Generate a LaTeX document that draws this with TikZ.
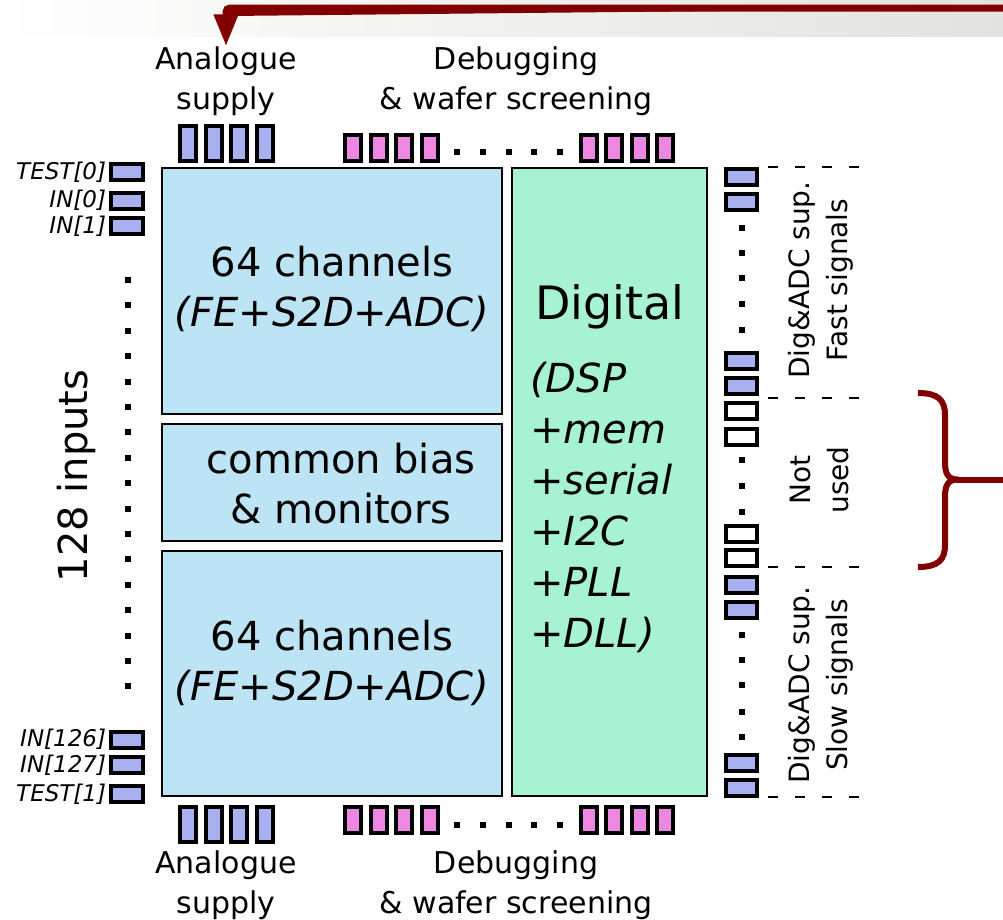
\documentclass[tikz,border=0pt]{standalone}
\usepackage{fontspec}
\setmainfont{DejaVu Sans}
\usepackage{xcolor}
\definecolor{chblue}{HTML}{BDE4F4}
\definecolor{dgreen}{HTML}{A6F2D1}
\definecolor{padblue}{HTML}{A9B0F0}
\definecolor{padpink}{HTML}{EC88E2}
\definecolor{darkred}{HTML}{800000}
\definecolor{band}{HTML}{E2E2DE}
\usetikzlibrary{arrows.meta,positioning,calc}
\newcommand\fs[2]{\fontsize{#1}{#2}\selectfont}
\tikzset{
  >={Triangle[width=23pt,length=32pt]},
  blk/.style={draw=black,line width=2.5pt,inner sep=0pt},
  chbox/.style={blk,fill=chblue},
  digbox/.style={blk,fill=dgreen},
  pad/.style={draw=black,line width=4pt,inner sep=0pt,fill=padblue},
  apad/.style={pad,minimum width=16pt,minimum height=35pt},
  dpad/.style={pad,fill=padpink,minimum width=16pt,minimum height=26pt},
  hpad/.style={pad,minimum width=31.5pt,minimum height=16pt},
  npad/.style={hpad,fill=white},
  pdot/.style={fill=black,inner sep=0pt,minimum size=6pt},
  lab/.style={font=\fs{30}{40},align=center,inner sep=0pt},
  big/.style={font=\fs{40}{50},align=center,inner sep=0pt},
  inlab/.style={font=\fs{23}{23}\itshape,anchor=east,inner sep=0pt},
  side/.style={font=\fs{28}{38},align=center,rotate=90,inner sep=0pt},
  sep/.style={draw=black,line width=1.8pt,dash pattern=on 10pt off 17pt},
  redarr/.style={->,draw=darkred,fill=darkred,line width=7pt,rounded corners=4pt},
  brc/.style={draw=darkred,line width=6pt},
}

\begin{document}
\begin{tikzpicture}[x=1pt,y=-1pt]
\useasboundingbox (0,0) rectangle (1003,919);
% slide header band
\shade[left color=white,right color=band] (0,0) rectangle (1003,36);
% chip blocks
\node[chbox,minimum width=340pt,minimum height=246pt] (chtop) at (332,291) {};
\node[chbox,minimum width=340pt,minimum height=117pt] (bias) at (332,482.5) {};
\node[chbox,minimum width=340pt,minimum height=245pt] (chbot) at (332,673.5) {};
\node[digbox,minimum width=195pt,minimum height=628pt] (dig) at (609.5,482) {};
\node[big] (chtopt) at (332,289) {64 channels\\\textit{(FE}+\textit{S2D}+\textit{ADC)}};
\node[big] (biast) at (341,484) {common bias\\\& monitors};
\node[big] (chbott) at (332,663) {64 channels\\\textit{(FE}+\textit{S2D}+\textit{ADC)}};
\node[font=\fs{46}{50},inner sep=0pt] (digt) at (610,307) {Digital};
\node[big,font=\fs{40}{51},align=left,anchor=north west] (digl) at (530,362)
  {\textit{(DSP}\\+\textit{mem}\\+\textit{serial}\\+\textit{I2C}\\+\textit{PLL}\\+\textit{DLL)}};
% top and bottom pads
\foreach \i/\x in {1/188,2/213.5,3/239,4/265}{
  \node[apad] (at\i) at (\x,143.5) {};
  \node[apad] (ab\i) at (\x,824) {};
}
\foreach \i/\x in {1/353,2/378.5,3/404,4/429.5,5/588.5,6/614,7/639.5,8/665}{
  \node[dpad] (dt\i) at (\x,148) {};
  \node[dpad] (db\i) at (\x,820) {};
}
\foreach \i in {0,...,4}{
  \node[pdot] (tdot\i) at ({457+25.8*\i},151.5) {};
  \node[pdot] (bdot\i) at ({457+25.8*\i},825) {};
}
\node[lab] (atop) at (226,81) {Analogue\\supply};
\node[lab] (dtop) at (516,81) {Debugging\\\& wafer screening};
\node[lab] (abot) at (226,885) {Analogue\\supply};
\node[lab] (dbot) at (516,885) {Debugging\\\& wafer screening};
% inputs
\foreach \y/\t/\n in {172/{TEST[0]}/tst0,200.5/{IN[0]}/in0,226/{IN[1]}/in1,739.5/{IN[126]}/in126,765/{IN[127]}/in127,794/{TEST[1]}/tst1}{
  \node[hpad] (\n) at (127,\y) {};
  \node[inlab] (l\n) at ([xshift=-3pt]\n.west) {\t};
}
\foreach \i in {0,...,16}
  \node[pdot] (ld\i) at (128,{280+25.4*\i}) {};
\node[font=\fs{40}{40},rotate=90,inner sep=0pt] (inp) at (76,476) {128 inputs};
% right side pads
\foreach \y/\k [count=\i] in {177/hpad,202/hpad,360.5/hpad,385.5/hpad,411/npad,437/npad,533.5/npad,558/npad,585/hpad,610/hpad,763/hpad,788/hpad}
  \node[\k] (rp\i) at (741.5,\y) {};
\foreach \y [count=\i] in {228,253,278,304,330,460,486,512,635,660,685,712,737}
  \node[pdot] (rd\i) at (741.5,\y) {};
\foreach \y in {167,398,567,797}
  \draw[sep] (768,\y) -- (864,\y);
\node[side] (fastl) at (821,280) {Dig\&ADC sup.\\Fast signals};
\node[side] (notl) at (819,480) {Not\\used};
\node[side] (slowl) at (821,685) {Dig\&ADC sup.\\Slow signals};
% red annotation
\coordinate (rin) at (1010,8);
\draw[redarr] (rin) -| (atop.north);
\draw[brc] (918,393) .. controls (938,393) and (945,400) .. (945,415) -- (945,462)
  .. controls (945,474) and (948,479.5) .. (958,479.5)
  .. controls (948,479.5) and (945,485) .. (945,497) -- (945,545)
  .. controls (945,560) and (938,567) .. (918,567);
\coordinate (brtip) at (956,479.5);
\coordinate (brout) at (1010,479.5);
\draw[brc] (brtip) -- (brout);
\end{tikzpicture}
\end{document}
